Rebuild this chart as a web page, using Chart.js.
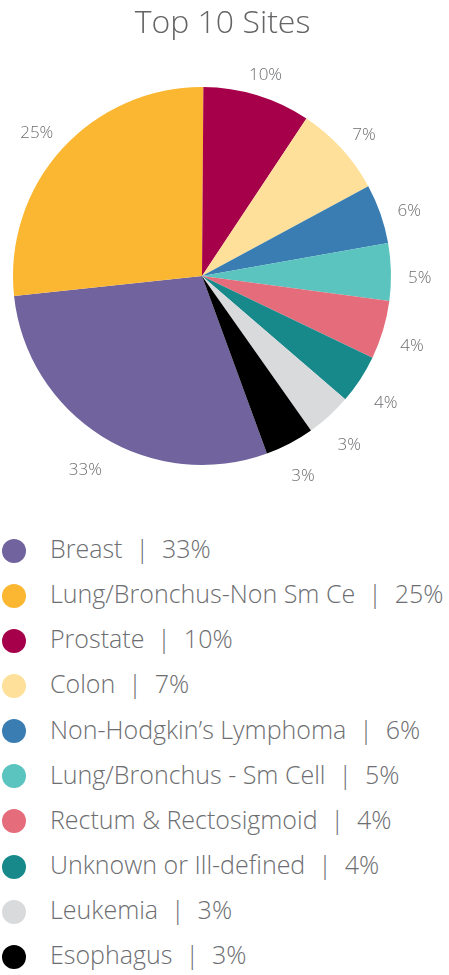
<!DOCTYPE html>
<html>
<head>
<meta charset="utf-8">
<script src="https://cdn.jsdelivr.net/npm/chart.js@4.4.0/dist/chart.umd.min.js"></script>
<style>
    body { margin: 0; background: #fff; font-family: "Open Sans", sans-serif; }
    #chartBox { position: relative; width: 449px; height: 500px; }
    #title { position: absolute; left: 0; top: -1px; width: 445px; height: 44px; line-height: 44px; text-align: center;
             font-size: 32px; font-weight: 300; color: #636466; margin: 0; }
    #legend { margin: 28px 0 0 0; padding: 0; list-style: none; }
    #legend li { position: relative; height: 45.15px; }
    #legend .dot { position: absolute; left: 2px; top: 50%; width: 24px; height: 24px; margin-top: -12px; border-radius: 50%; }
    #legend .txt { position: absolute; left: 50px; top: -2px; line-height: 45px; font-size: 25px; color: #6d6e71; white-space: pre; font-weight: 300; }
</style>
</head>
<body>
<div id="chartBox">
    <div id="title">Top 10 Sites</div>
    <canvas id="sitesChart"></canvas>
</div>
<ul id="legend"></ul>
<script>
// Top 10 sites
const sites = [
    "Breast",
    "Lung/Bronchus-Non Sm Ce",
    "Prostate",
    "Colon",
    "Non-Hodgkin’s Lymphoma",
    "Lung/Bronchus - Sm Cell",
    "Rectum & Rectosigmoid",
    "Unknown or Ill-defined",
    "Leukemia",
    "Esophagus"
];
// percentages printed on the chart
const sharePct = [33, 25, 10, 7, 6, 5, 4, 4, 3, 3];
// slice sizes as drawn in the pie
const sliceSize = [28.9, 26.8, 9.2, 7.8, 5.1, 4.9, 5.0, 4.2, 3.9, 4.2];
const siteColors = ["#71639e", "#fbb731", "#a6004a", "#fee09b", "#3a7db2", "#5bc4bf", "#e56c7b", "#17898a", "#d9dadc", "#000000"];

const textGray = "#6d6e71";

// percent labels just outside each slice
const outsideLabels = {
    id: "outsideLabels",
    afterDatasetsDraw(chart) {
        const ctx = chart.ctx;
        const arcs = chart.getDatasetMeta(0).data;
        ctx.save();
        ctx.font = "300 17px 'Open Sans'";
        ctx.fillStyle = textGray;
        ctx.textAlign = "center";
        ctx.textBaseline = "middle";
        arcs.forEach((arc, i) => {
            const p = arc.getProps(["x", "y", "startAngle", "endAngle", "outerRadius"], true);
            const mid = (p.startAngle + p.endAngle) / 2;
            const text = sharePct[i] + "%";
            const w = ctx.measureText(text).width;
            const reach = Math.abs(Math.cos(mid)) * w / 2 + Math.abs(Math.sin(mid)) * 7;
            const r = p.outerRadius + 17 + reach;
            ctx.fillText(text, p.x + Math.cos(mid) * r, p.y + Math.sin(mid) * r + 7);
        });
        ctx.restore();
    }
};

document.addEventListener("DOMContentLoaded", () => {
    const ctx = document.getElementById("sitesChart").getContext("2d");

    const chart = new Chart(ctx, {
        type: "pie",
        data: {
            labels: sites,
            datasets: [{
                data: sliceSize,
                backgroundColor: siteColors,
                borderWidth: 0,
                hoverOffset: 0
            }]
        },
        options: {
            responsive: true,
            maintainAspectRatio: false,
            animation: false,
            rotation: 159.9,
            layout: {
                padding: { top: 87, left: 13, right: 58, bottom: 35 }
            },
            plugins: {
                legend: { display: false },
                tooltip: { enabled: false }
            }
        },
        plugins: [outsideLabels]
    });

    // legend, one site per row
    const legend = document.getElementById("legend");
    chart.data.labels.forEach((label, i) => {
        const li = document.createElement("li");
        const dot = document.createElement("span");
        dot.className = "dot";
        dot.style.background = siteColors[i];
        const txt = document.createElement("span");
        txt.className = "txt";
        txt.textContent = label + "  |  " + sharePct[i] + "%";
        li.appendChild(dot);
        li.appendChild(txt);
        legend.appendChild(li);
    });
});
</script>
</body>
</html>
